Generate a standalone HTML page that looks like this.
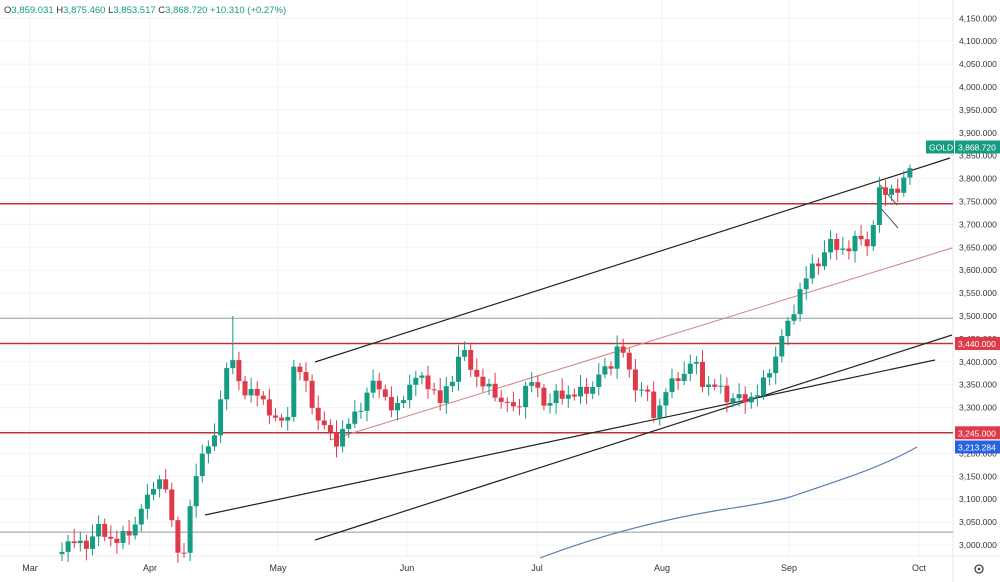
<!DOCTYPE html>
<html><head><meta charset="utf-8"><style>
body{margin:0;background:#fff;width:1000px;height:582px;overflow:hidden;font-family:"Liberation Sans",sans-serif}
svg{position:absolute;left:0;top:0}
</style></head><body>
<svg id="s" width="1000" height="582" xmlns="http://www.w3.org/2000/svg" font-family="Liberation Sans, sans-serif">
</svg>
<script>
var s=document.getElementById('s'),h='';
function Y(p){return 545-(p-3000)*0.458;}
for(var p=3000;p<=4150;p+=50){var y=Y(p);h+='<line x1="0" x2="953" y1="'+y+'" y2="'+y+'" stroke="#f2f3f5"/>';
h+='<text x="959" y="'+(y+3)+'" font-size="8.5" fill="#333">'+p.toLocaleString('en-US')+'.000</text>';}
var mx=[[30,'Mar'],[150,'Apr'],[278,'May'],[407,'Jun'],[537,'Jul'],[662,'Aug'],[789,'Sep'],[919,'Oct']];
mx.forEach(function(m){h+='<line x1="'+m[0]+'" x2="'+m[0]+'" y1="0" y2="556" stroke="#f2f3f5"/><text x="'+m[0]+'" y="571" font-size="9" fill="#333" text-anchor="middle">'+m[1]+'</text>';});
h+='<line x1="0" x2="1000" y1="556" y2="556" stroke="#e8e8e8"/><line x1="953" x2="953" y1="0" y2="582" stroke="#e8e8e8"/>';
h+='<circle cx="979" cy="569" r="4" fill="none" stroke="#444" stroke-width="1.3"/><circle cx="979" cy="569" r="1.3" fill="#444"/>';
h+='<line x1="0" x2="953" y1="'+Y(3495)+'" y2="'+Y(3495)+'" stroke="#999"/>';
h+='<line x1="0" x2="953" y1="'+Y(3028)+'" y2="'+Y(3028)+'" stroke="#999"/>';
[3745,3440,3245].forEach(function(p){h+='<line x1="0" x2="953" y1="'+Y(p)+'" y2="'+Y(p)+'" stroke="#c0303f" stroke-width="1.5"/>';});
h+='<line x1="315" y1="362" x2="950" y2="158" stroke="#222" stroke-width="1.2"/>';
h+='<line x1="205" y1="515" x2="935" y2="360" stroke="#222" stroke-width="1.2"/>';
h+='<line x1="315" y1="540" x2="952" y2="335" stroke="#222" stroke-width="1.2"/>';
h+='<line x1="330" y1="440" x2="952" y2="248" stroke="#d08080" stroke-width="1"/>';
h+='<line x1="880" y1="185" x2="897" y2="205" stroke="#555"/><line x1="878" y1="205" x2="898" y2="228" stroke="#555"/>';
h+='<path d="M540,558 C600,535 660,520 720,510 C760,504 780,500 790,497 C840,480 880,468 917,447" fill="none" stroke="#5b7fb0" stroke-width="1.2"/>';
var w=[[62,2985],[80,3000],[100,3030],[115,3020],[130,3040],[145,3080],[155,3130],[165,3120],[175,3010],[185,2980],[195,3150],[205,3230],[215,3240],[222,3360],[230,3420],[240,3330],[255,3320],[270,3300],[285,3240],[295,3420],[303,3380],[310,3330],[320,3270],[335,3210],[350,3260],[365,3330],[380,3350],[395,3300],[410,3360],[425,3350],[440,3300],[460,3420],[475,3380],[495,3340],[515,3280],[530,3350],[550,3310],[570,3340],[590,3350],[610,3380],[620,3430],[630,3370],[645,3330],[655,3280],[665,3350],[680,3380],[695,3390],[705,3330],[720,3340],[740,3310],[760,3350],[780,3440],[790,3480],[800,3540],[815,3620],[830,3650],[850,3660],[860,3690],[870,3650],[880,3770],[890,3760],[900,3760],[908,3830],[915,3869]];
function interp(x){for(var i=0;i<w.length-1;i++){if(x<=w[i+1][0]){var t=(x-w[i][0])/(w[i+1][0]-w[i][0]);return w[i][1]+t*(w[i+1][1]-w[i][1]);}}return w[w.length-1][1];}
var prev=2980,k=0;
for(var x=62;x<=916;x+=6.1){k++;var c=interp(x)+((k*37)%5-2)*9*((k%3)?1:-1);if(x>912)c=3868.7;
var o=prev,up=c>=o,hi=Math.max(o,c)+8+(k*13%20),lo=Math.min(o,c)-8-(k*7%18);
if(Math.abs(x-235)<3)hi=3500;
var col=up?'#169c82':'#e03a4a';
h+='<line x1="'+x+'" x2="'+x+'" y1="'+Y(hi)+'" y2="'+Y(lo)+'" stroke="'+col+'"/>';
var yt=Y(Math.max(o,c)),yb=Y(Math.min(o,c));if(yb-yt<1)yb=yt+1;
h+='<rect x="'+(x-2.5)+'" y="'+yt+'" width="5" height="'+(yb-yt)+'" fill="'+col+'"/>';prev=c;}
function tag(x,y,wd,txt,bg){h+='<rect x="'+x+'" y="'+(y-6.5)+'" width="'+wd+'" height="13" fill="'+bg+'"/><text x="'+(x+3)+'" y="'+(y+3.5)+'" font-size="8.5" fill="#fff">'+txt+'</text>';}
tag(926,147,28,'GOLD','#169c82');tag(955,147,45,'3,868.720','#169c82');
tag(955,Y(3440),45,'3,440.000','#e03a4a');tag(955,Y(3245),45,'3,245.000','#e03a4a');tag(955,447,45,'3,213.284','#2962e0');
h+='<text x="4" y="13" font-size="9.5" fill="#169c82"><tspan fill="#333">O</tspan>3,859.031 <tspan fill="#333">H</tspan>3,875.460 <tspan fill="#333">L</tspan>3,853.517 <tspan fill="#333">C</tspan>3,868.720 +10.310 (+0.27%)</text>';
s.innerHTML=h;
</script>
</body></html>
